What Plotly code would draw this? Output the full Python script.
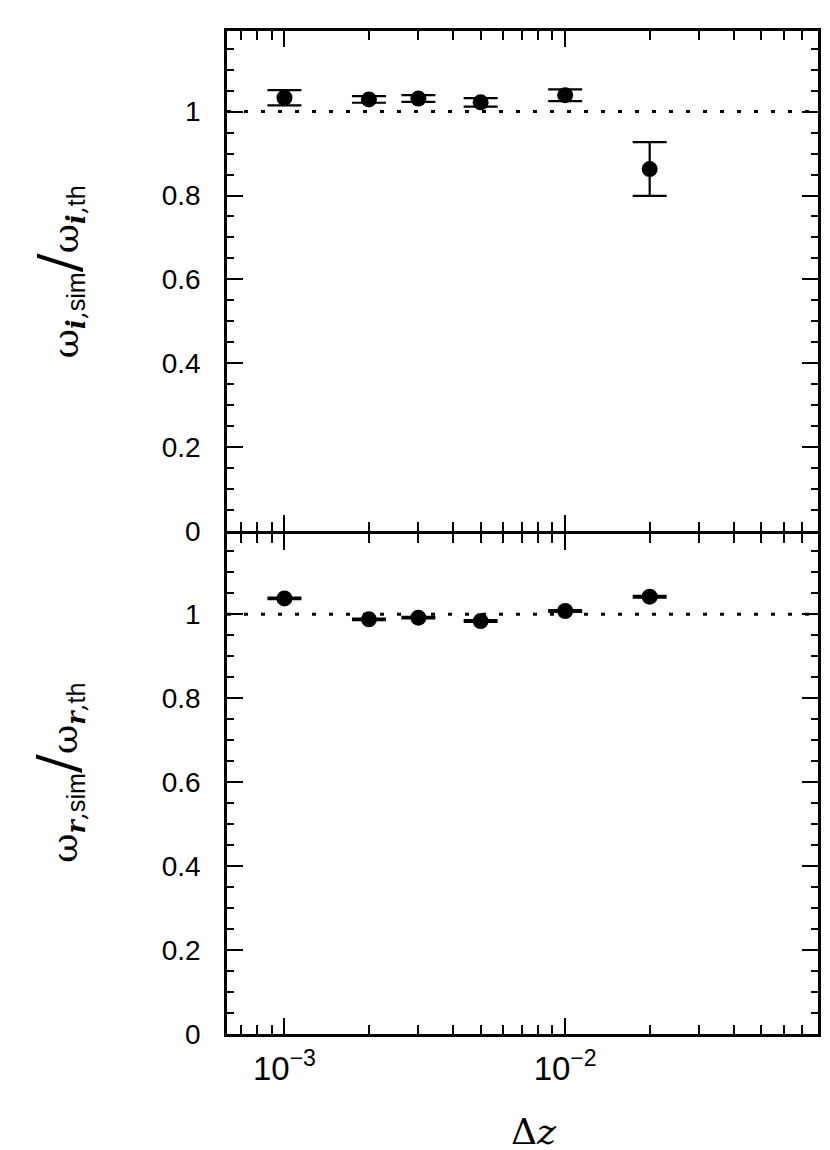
import plotly.graph_objects as go
from plotly.subplots import make_subplots

dz = [1e-3, 2e-3, 3e-3, 5e-3, 1e-2, 2e-2]
wi_ratio = [1.033, 1.029, 1.031, 1.022, 1.039, 0.863]
wi_err = [0.018, 0.008, 0.008, 0.010, 0.014, 0.064]
wr_ratio = [1.038, 0.988, 0.992, 0.984, 1.008, 1.042]
wr_err = [0.002, 0.002, 0.002, 0.002, 0.002, 0.002]

y_ticks = [0, 0.2, 0.4, 0.6, 0.8, 1]
y_labels = ["0", "0.2", "0.4", "0.6", "0.8", "1"]
x_ticks = [1e-3, 1e-2]
x_labels = ["10<sup>\u22123</sup>", "10<sup>\u22122</sup>"]
x_minor = [m * 1e-4 for m in (7, 8, 9)] + [m * 1e-3 for m in range(2, 10)] + [m * 1e-2 for m in range(2, 9)]

INK = "black"
SANS = "Liberation Sans, Arial, sans-serif"
TICK_FONT = dict(family=SANS, size=28, color=INK)

# a small gap so the two touching axis lines fall on top of each other
fig = make_subplots(rows=2, cols=1, shared_xaxes=True, vertical_spacing=0.0025)

for row, (vals, errs) in enumerate([(wi_ratio, wi_err), (wr_ratio, wr_err)], start=1):
    fig.add_trace(
        go.Scatter(
            x=dz, y=vals, mode="markers",
            marker=dict(color=INK, size=16),
            error_y=dict(type="data", array=errs, color=INK, thickness=2.2, width=17),
            showlegend=False,
        ),
        row=row, col=1,
    )
    fig.add_hline(y=1, line=dict(color=INK, width=3, dash="4px,13px"), row=row, col=1)

fig.update_xaxes(
    type="log", range=[-3.2046, -1.0994],
    tickmode="array", tickvals=x_ticks, ticktext=x_labels,
    ticks="inside", ticklen=16, tickwidth=2, tickcolor=INK,
    minor=dict(tickmode="array", tickvals=x_minor, ticks="inside", ticklen=9, tickwidth=2, tickcolor=INK),
    showline=True, linewidth=2.5, linecolor=INK, mirror="allticks",
    showgrid=False, zeroline=False,
    tickfont=dict(family=SANS, size=33, color=INK), ticklabelstandoff=4,
)
fig.update_xaxes(showticklabels=False, row=1, col=1)
fig.update_yaxes(
    range=[0, 1.192],
    tickmode="array", tickvals=y_ticks, ticktext=y_labels,
    ticks="inside", ticklen=16, tickwidth=2, tickcolor=INK,
    minor=dict(dtick=0.05, ticks="inside", ticklen=7, tickwidth=2, tickcolor=INK),
    showline=True, linewidth=2.5, linecolor=INK, mirror="allticks",
    showgrid=False, zeroline=False, tickfont=TICK_FONT, ticklabelstandoff=18,
)

title_font = dict(family="DejaVu Serif, serif", size=36, color=INK)
big_slash = '<span style="font-size:56px">/</span>'


def ratio_title(sym):
    sub = "<sub><b><i>%s</i></b>,<span style='font-family:Liberation Sans'>%s</span></sub>"
    return "\u03c9" + sub % (sym, "sim") + big_slash + "\u03c9" + sub % (sym, "th")


fig.add_annotation(
    text=ratio_title("i"), xref="paper", yref="paper", x=-0.285, y=0.76, textangle=-90,
    showarrow=False, font=title_font, xanchor="center", yanchor="middle",
)
fig.add_annotation(
    text=ratio_title("r"), xref="paper", yref="paper", x=-0.285, y=0.26, textangle=-90,
    showarrow=False, font=title_font, xanchor="center", yanchor="middle",
)
fig.add_annotation(
    text="\u0394<i>z</i>", xref="paper", yref="paper", x=0.52, y=-0.097,
    showarrow=False, font=dict(family="DejaVu Serif, serif", size=36, color=INK),
    xanchor="center", yanchor="middle",
)

fig.update_layout(
    width=830, height=1150,
    margin=dict(l=219, r=20, t=23, b=124),
    paper_bgcolor="white", plot_bgcolor="white",
)

fig.write_html("out.html")
